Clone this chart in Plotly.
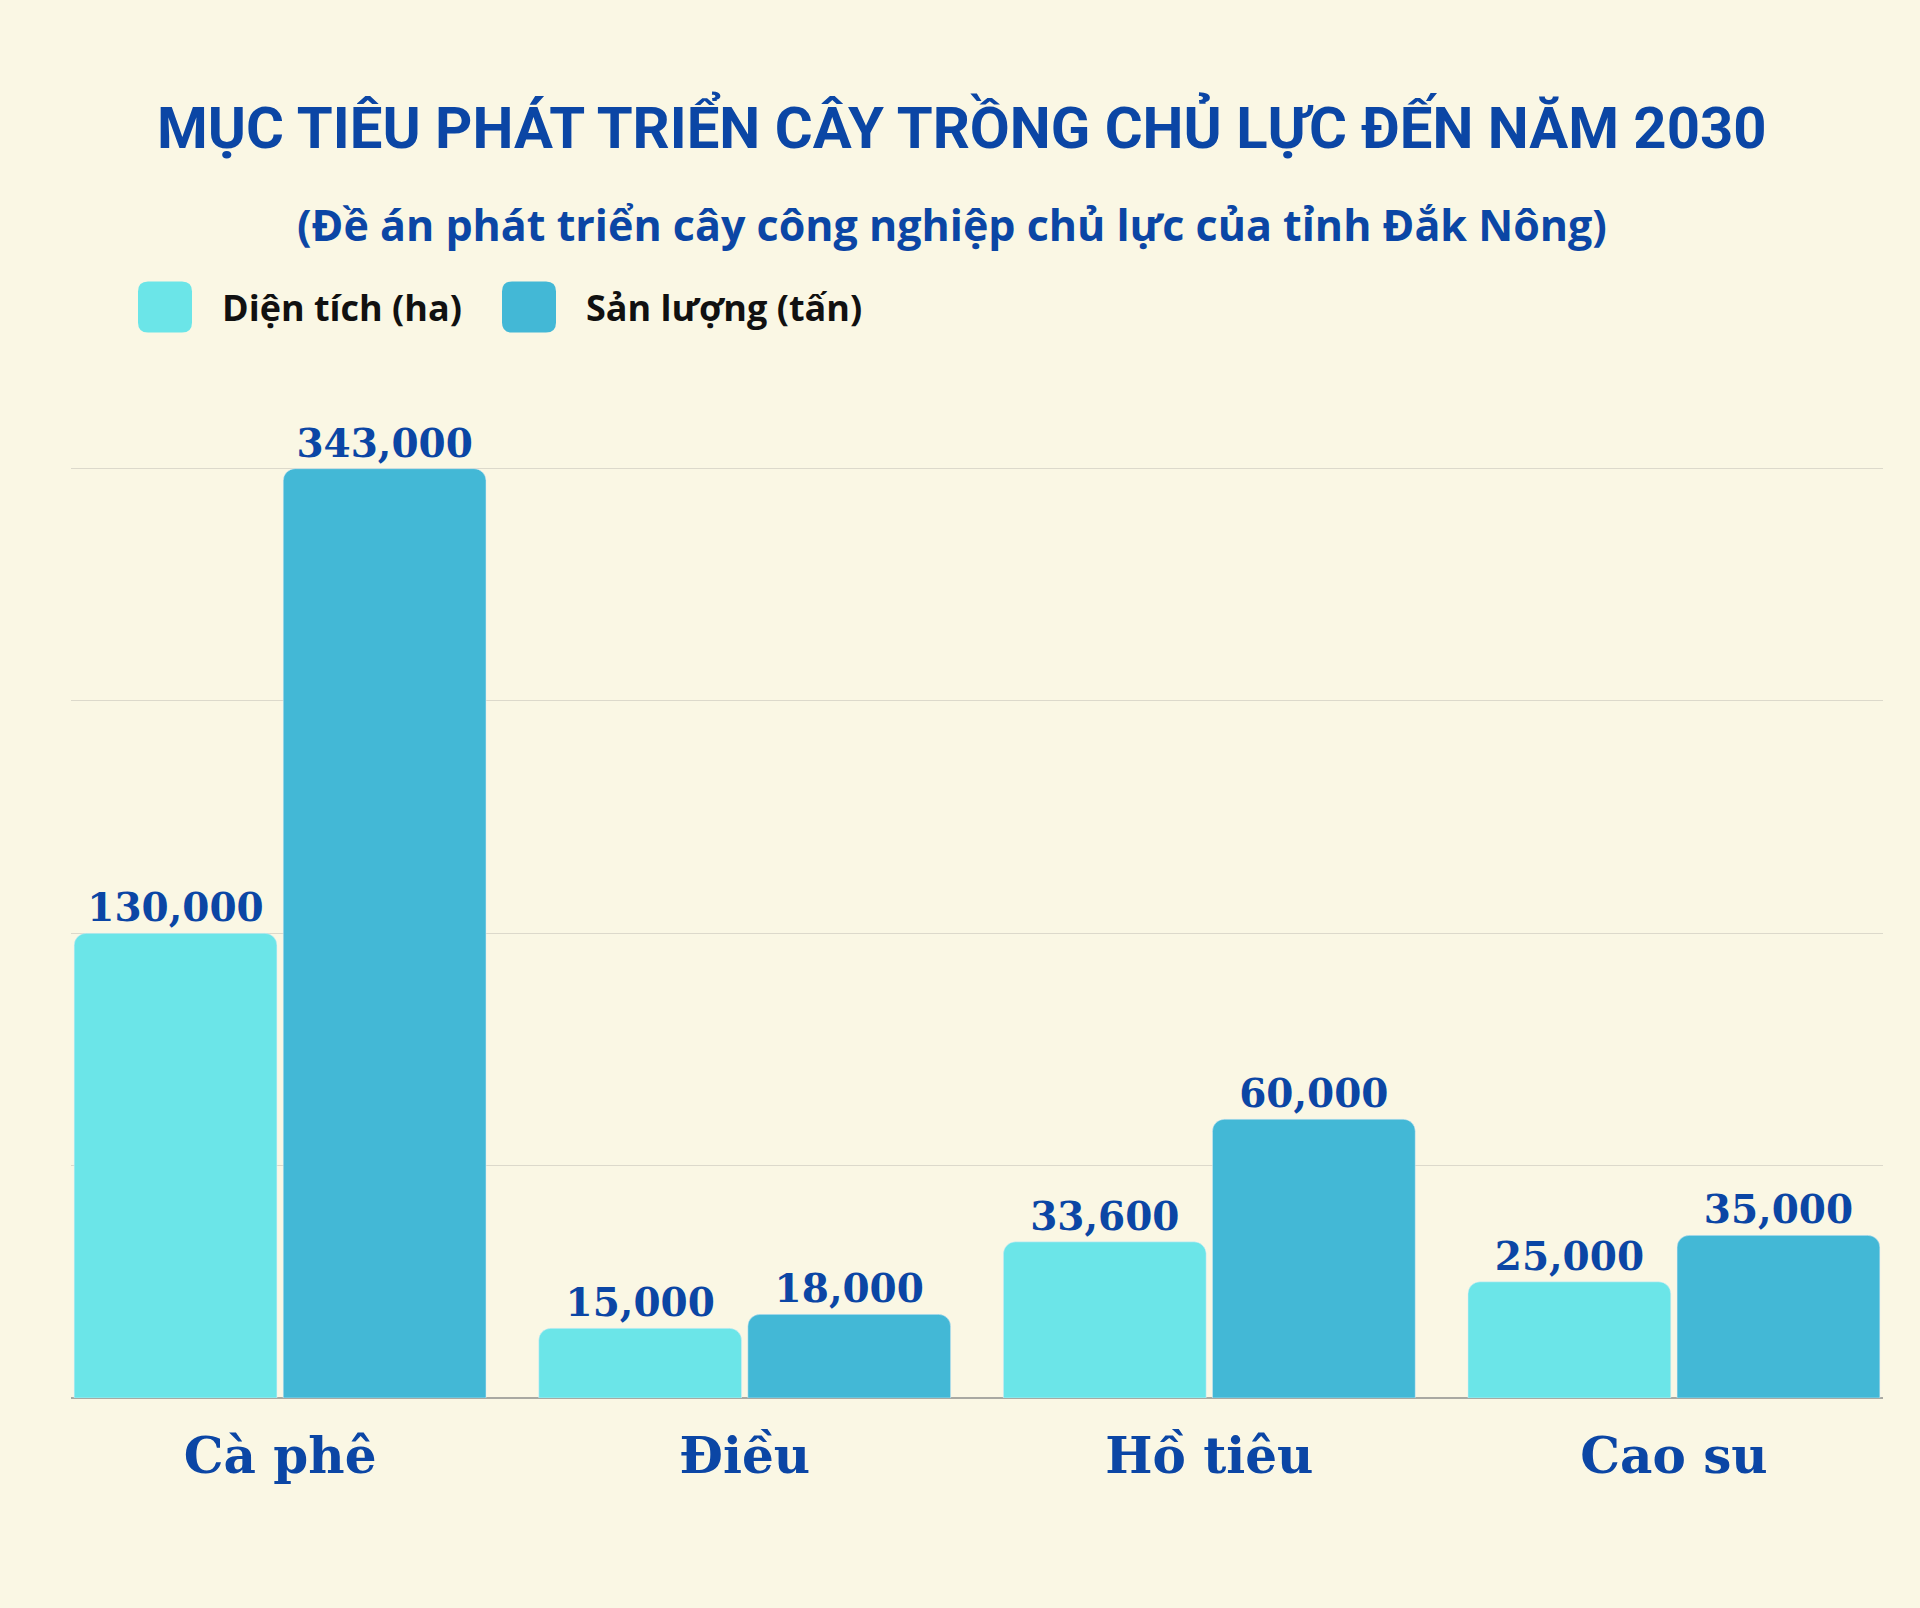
import numpy as np
import plotly.graph_objects as go

crops = ['Cà phê', 'Điều', 'Hồ tiêu', 'Cao su']
area_ha = [130000, 15000, 33600, 25000]
output_tan = [343000, 18000, 60000, 35000]

# the infographic squeezes its tall bars: piecewise axis (value -> grid units)
scale_values = [0, 60000, 130000, 343000]
scale_units = [0, 1.2, 2.0, 4.0]

W, H = 1920, 1608
L, R, T, B = 71, 37, 464, 210
BG = '#faf7e4'
BLUE = '#0b46a5'


def px(x):
    return (x - L) / (W - L - R)


def py(y):
    return (H - B - y) / (H - T - B)


def scaled(vals):
    return np.interp(vals, scale_values, scale_units)


def rounded_box(w, h, r):
    # path in pixels around the anchor point
    x0, x1, y0, y1 = -w / 2, w / 2, -h / 2, h / 2
    return (f'M{x0 + r},{y0} L{x1 - r},{y0} Q{x1},{y0} {x1},{y0 + r} '
            f'L{x1},{y1 - r} Q{x1},{y1} {x1 - r},{y1} L{x0 + r},{y1} '
            f'Q{x0},{y1} {x0},{y1 - r} L{x0},{y0 + r} Q{x0},{y0} {x0 + r},{y0} Z')


fig = go.Figure()
fig.add_trace(go.Bar(
    x=crops, y=scaled(area_ha), name='Diện tích (ha)',
    text=[f'{v:,}' for v in area_ha],
    marker=dict(color='#6be5e8', cornerradius=12),
))
fig.add_trace(go.Bar(
    x=crops, y=scaled(output_tan), name='Sản lượng (tấn)',
    text=[f'{v:,}' for v in output_tan],
    marker=dict(color='#43b8d6', cornerradius=12),
))
fig.update_traces(
    textposition='outside', cliponaxis=False, constraintext='none',
    textfont=dict(family='DejaVu Serif', size=39, color=BLUE, weight='bold'),
)

fig.update_layout(
    width=W, height=H,
    margin=dict(l=L, r=R, t=T, b=B),
    paper_bgcolor=BG, plot_bgcolor=BG,
    barmode='group', bargap=0.1, bargroupgap=0.03,
    showlegend=False,
    xaxis=dict(
        range=[-0.45, 3.45], showgrid=False, ticks='', showline=False,
        tickfont=dict(family='DejaVu Serif', size=50, color=BLUE, weight='bold'),
        ticklabelstandoff=24,
    ),
    yaxis=dict(
        range=[0, 4.02], dtick=1, showticklabels=False,
        gridcolor='#dcd9cb', gridwidth=1,
        zeroline=True, zerolinecolor='#a9a9a2', zerolinewidth=2,
    ),
)

fig.add_annotation(
    text='MỤC TIÊU PHÁT TRIỂN CÂY TRỒNG CHỦ LỰC ĐẾN NĂM 2030',
    xref='paper', yref='paper', x=px(961), y=py(127), showarrow=False,
    xanchor='center', yanchor='middle',
    font=dict(family='Roboto', size=58, color=BLUE, weight='bold'),
)
fig.add_annotation(
    text='(Đề án phát triển cây công nghiệp chủ lực của tỉnh Đắk Nông)',
    xref='paper', yref='paper', x=px(952), y=py(224), showarrow=False,
    xanchor='center', yanchor='middle',
    font=dict(family='Open Sans', size=43, color=BLUE, weight='bold'),
)

legend_items = [('Diện tích (ha)', '#6be5e8', 138), ('Sản lượng (tấn)', '#43b8d6', 502)]
for label, color, x0 in legend_items:
    fig.add_shape(
        type='path', xref='paper', yref='paper',
        xsizemode='pixel', ysizemode='pixel',
        xanchor=px(x0 + 27), yanchor=py(307),
        path=rounded_box(54, 51, 10),
        fillcolor=color, line=dict(width=0), layer='above',
    )
    fig.add_annotation(
        text=label, xref='paper', yref='paper', x=px(x0 + 82), y=py(307),
        showarrow=False, xanchor='left', yanchor='middle',
        font=dict(family='Open Sans', size=36, color='#111111', weight='bold'),
    )

fig.write_html('out.html', config={'displayModeBar': False},
               post_script="document.body.style.margin='0';")
